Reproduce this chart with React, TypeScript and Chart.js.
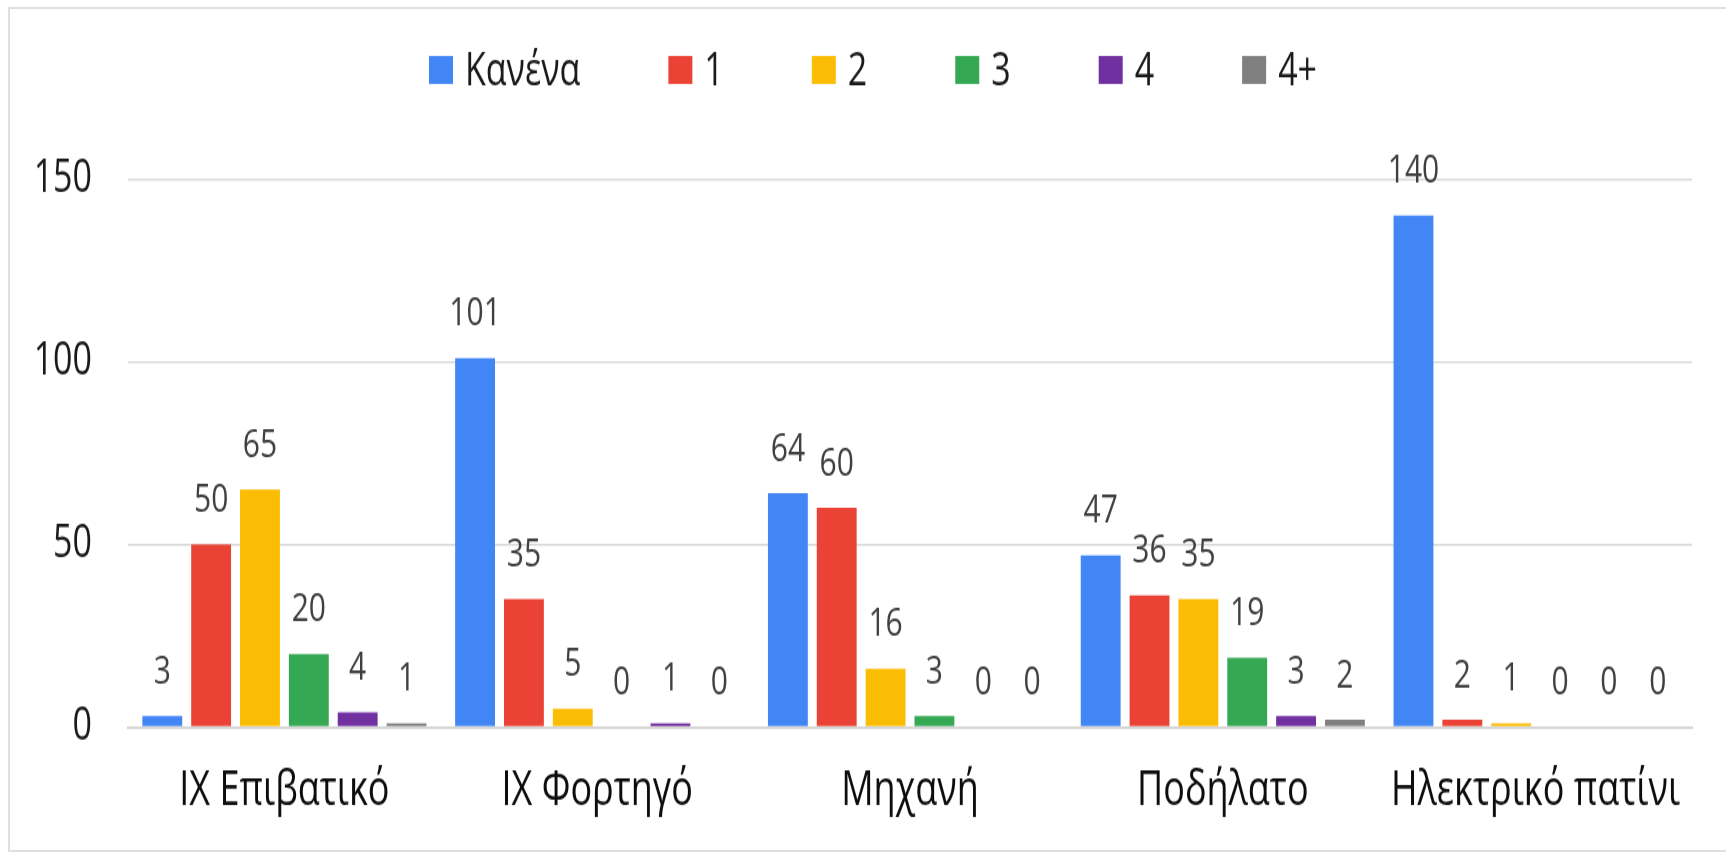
import React, { useEffect, useRef } from "react";
import { Chart, registerables } from "chart.js";

Chart.register(...registerables);

// ---- data ----
const categories = ["IX Επιβατικό", "IX Φορτηγό", "Μηχανή", "Ποδήλατο", "Ηλεκτρικό πατίνι"];
const seriesNames = ["Κανένα", "1", "2", "3", "4", "4+"];
const seriesNone = [3, 101, 64, 47, 140];
const seriesOne = [50, 35, 60, 36, 2];
const seriesTwo = [65, 5, 16, 35, 1];
const seriesThree = [20, 0, 3, 19, 0];
const seriesFour = [4, 1, 0, 3, 0];
const seriesFourPlus = [1, 0, 0, 2, 0];
const yTicks = [0, 50, 100, 150];

const colors = ["#4285F4", "#EA4335", "#FBBC04", "#34A853", "#7030A0", "#808080"];

// ---- layout (canvas is drawn at a lower internal height and stretched vertically) ----
const W = 1726;
const H_CSS = 853;
const H = 640;
const FONT = "'Open Sans', 'Noto Sans', sans-serif";

const valueLabels = {
  id: "valueLabels",
  afterDatasetsDraw(chart: any) {
    const ctx = chart.ctx;
    ctx.save();
    ctx.font = `30px ${FONT}`;
    ctx.fillStyle = "#404040";
    ctx.textAlign = "center";
    ctx.textBaseline = "alphabetic";
    chart.data.datasets.forEach((ds: any, i: number) => {
      const meta = chart.getDatasetMeta(i);
      meta.data.forEach((el: any, j: number) => {
        ctx.fillText(String(ds.data[j]), el.x, el.y - 24.5);
      });
    });
    ctx.restore();
  },
};

const customLegend = {
  id: "customLegend",
  afterDraw(chart: any) {
    const ctx = chart.ctx;
    ctx.save();
    ctx.font = `34px ${FONT}`;
    ctx.textBaseline = "alphabetic";
    ctx.textAlign = "left";
    const box = 24;
    const boxH = 21;
    const gap = 12;
    const spacing = 88;
    const items = chart.data.datasets.map((ds: any) => ({
      text: ds.label,
      color: ds.backgroundColor,
      w: ctx.measureText(ds.label).width,
    }));
    const total =
      items.reduce((a: number, it: any) => a + box + gap + it.w, 0) + spacing * (items.length - 1);
    let x = 873 - total / 2;
    const boxTop = 42;
    const baseline = 63.8;
    items.forEach((it: any) => {
      ctx.fillStyle = it.color;
      ctx.fillRect(x, boxTop, box, boxH);
      ctx.fillStyle = "#1a1a1a";
      ctx.fillText(it.text, x + box + gap, baseline);
      x += box + gap + it.w + spacing;
    });
    ctx.restore();
  },
};

export default function App() {
  const ref = useRef<HTMLCanvasElement | null>(null);

  useEffect(() => {
    if (!ref.current) return;
    const all = [seriesNone, seriesOne, seriesTwo, seriesThree, seriesFour, seriesFourPlus];
    const chart = new Chart(ref.current, {
      type: "bar",
      data: {
        labels: categories,
        datasets: all.map((d, i) => ({
          label: seriesNames[i],
          data: d,
          backgroundColor: colors[i],
          borderWidth: 0,
          categoryPercentage: 0.937,
          barPercentage: 0.816,
        })),
      },
      options: {
        animation: false,
        responsive: false,
        maintainAspectRatio: false,
        devicePixelRatio: 1,
        events: [],
        layout: { padding: { left: 0, right: 34, top: 134.3, bottom: 0 } },
        plugins: {
          legend: { display: false },
          tooltip: { enabled: false },
        },
        scales: {
          x: {
            grid: { display: false, drawTicks: false },
            border: { display: true, color: "#d6d6d6", width: 2 },
            ticks: {
              font: { family: FONT, size: 36 },
              color: "#0d0d0d",
              padding: 27,
              autoSkip: false,
              maxRotation: 0,
            },
            afterFit: (s: any) => {
              s.height = 94.5;
            },
          },
          y: {
            min: 0,
            max: 150,
            grid: { color: "#d9d9d9", lineWidth: 1.5, drawTicks: false },
            border: { display: false },
            ticks: {
              font: { family: FONT, size: 34 },
              color: "#1a1a1a",
              padding: 36,
            },
            afterBuildTicks: (s: any) => {
              s.ticks = yTicks.map((v) => ({ value: v }));
            },
            afterFit: (s: any) => {
              s.width = 128;
            },
          },
        },
      },
      plugins: [valueLabels, customLegend],
    });
    return () => chart.destroy();
  }, []);

  return (
    <>
      <canvas
        ref={ref}
        width={W}
        height={H}
        style={{
          position: "fixed",
          left: 0,
          top: 0,
          width: `${W}px`,
          height: `${H_CSS}px`,
          background: "#ffffff",
        }}
      />
      <div
        style={{
          position: "fixed",
          left: 8,
          top: 7,
          width: 1718,
          height: 845,
          boxSizing: "border-box",
          borderTop: "2px solid #e0e0e0",
          borderLeft: "2px solid #e0e0e0",
          borderBottom: "2px solid #e0e0e0",
          pointerEvents: "none",
        }}
      />
    </>
  );
}
